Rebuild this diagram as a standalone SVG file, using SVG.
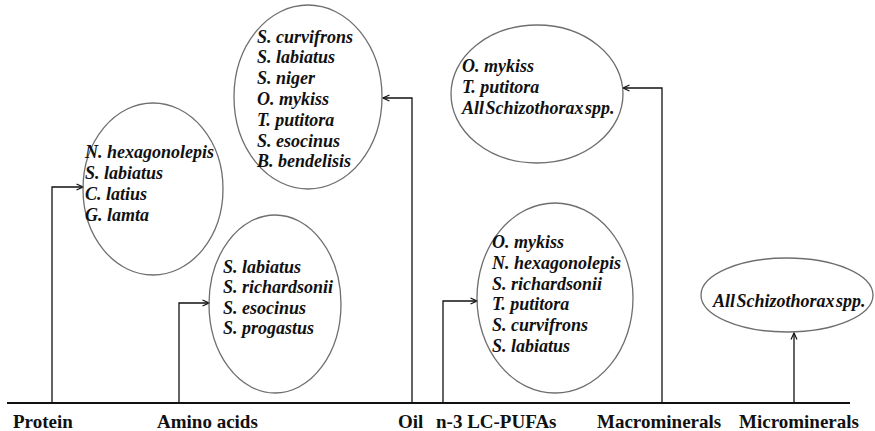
<svg xmlns="http://www.w3.org/2000/svg" width="875" height="431" viewBox="0 0 875 431">
<style>
.ell{fill:none;stroke:#6e6e6e;stroke-width:1.3}
.sp{font-family:"Liberation Serif","Times New Roman",serif;font-style:italic;font-weight:bold;font-size:18px;fill:#111}
.lbl{font-family:"Liberation Serif","Times New Roman",serif;font-weight:bold;font-size:19px;fill:#111}
.con{fill:none;stroke:#111;stroke-width:1.3}
</style>
<defs>
<marker id="arr" markerUnits="userSpaceOnUse" markerWidth="10" markerHeight="10" viewBox="0 0 10 10" refX="9" refY="5" orient="auto">
<path d="M2.5,2 L9,5 L2.5,8" fill="none" stroke="#111" stroke-width="1.2"/>
</marker>
</defs>
<rect width="875" height="431" fill="#fff"/>
<g id="axis">
<line x1="7" y1="403" x2="850" y2="403" stroke="#111" stroke-width="2"/>
<text class="lbl" x="13" y="428">Protein</text>
<text class="lbl" x="157" y="428">Amino acids</text>
<text class="lbl" x="398" y="428">Oil</text>
<text class="lbl" x="436" y="428">n-3 LC-PUFAs</text>
<text class="lbl" x="597" y="428">Macrominerals</text>
<text class="lbl" x="739" y="428">Microminerals</text>
</g>
<g id="connectors">
<path class="con" d="M52,402 V187 H83" marker-end="url(#arr)"/>
<path class="con" d="M179,402 V303 H209" marker-end="url(#arr)"/>
<path class="con" d="M412,402 V98 H383" marker-end="url(#arr)"/>
<path class="con" d="M443,402 V301 H477" marker-end="url(#arr)"/>
<path class="con" d="M662,402 V88 H623" marker-end="url(#arr)"/>
<path class="con" d="M794,402 V333" marker-end="url(#arr)"/>
</g>
<g id="protein">
<ellipse class="ell" cx="153" cy="189" rx="70" ry="86"/>
<text class="sp" x="85" y="158" font-size="19">N. hexagonolepis</text>
<text class="sp" x="85" y="179" font-size="19">S. labiatus</text>
<text class="sp" x="85" y="200" font-size="19">C. latius</text>
<text class="sp" x="85" y="221" font-size="19">G. lamta</text>
</g>
<g id="oil">
<ellipse class="ell" cx="308" cy="97" rx="74" ry="92"/>
<text class="sp" x="257" y="43">S. curvifrons</text>
<text class="sp" x="257" y="63">S. labiatus</text>
<text class="sp" x="257" y="84">S. niger</text>
<text class="sp" x="257" y="105">O. mykiss</text>
<text class="sp" x="257" y="126">T. putitora</text>
<text class="sp" x="257" y="147">S. esocinus</text>
<text class="sp" x="257" y="167">B. bendelisis</text>
</g>
<g id="amino">
<ellipse class="ell" cx="275" cy="304" rx="66" ry="89"/>
<text class="sp" x="223" y="273">S. labiatus</text>
<text class="sp" x="223" y="293">S. richardsonii</text>
<text class="sp" x="223" y="314">S. esocinus</text>
<text class="sp" x="223" y="334">S. progastus</text>
</g>
<g id="pufa">
<ellipse class="ell" cx="555" cy="298" rx="78" ry="95"/>
<text class="sp" x="492" y="248" font-size="18.5">O. mykiss</text>
<text class="sp" x="492" y="269" font-size="18.5">N. hexagonolepis</text>
<text class="sp" x="492" y="290" font-size="18.5">S. richardsonii</text>
<text class="sp" x="492" y="310" font-size="18.5">T. putitora</text>
<text class="sp" x="492" y="331" font-size="18.5">S. curvifrons</text>
<text class="sp" x="492" y="352" font-size="18.5">S. labiatus</text>
</g>
<g id="macro">
<ellipse class="ell" cx="537" cy="94" rx="86" ry="69"/>
<text class="sp" x="462" y="72">O. mykiss</text>
<text class="sp" x="462" y="93">T. putitora</text>
<text class="sp" x="462" y="114" word-spacing="-3">All Schizothorax spp.</text>
</g>
<g id="micro">
<ellipse class="ell" cx="787" cy="295" rx="86" ry="37"/>
<text class="sp" x="713" y="307" word-spacing="-3">All Schizothorax spp.</text>
</g>
</svg>
